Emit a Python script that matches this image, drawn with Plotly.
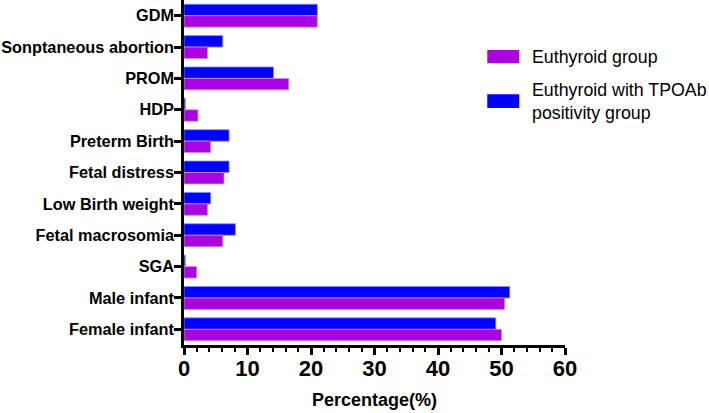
import plotly.graph_objects as go

categories = ["GDM", "Sonptaneous abortion", "PROM", "HDP", "Preterm Birth",
              "Fetal distress", "Low Birth weight", "Fetal macrosomia", "SGA",
              "Male infant", "Female infant"]
euthyroid = [21.0, 3.7, 16.5, 2.2, 4.2, 6.3, 3.7, 6.1, 2.0, 50.5, 50.0]
tpoab = [21.0, 6.1, 14.1, 0.2, 7.1, 7.1, 4.2, 8.1, 0.2, 51.3, 49.1]
xticks = [0, 10, 20, 30, 40, 50, 60]
names = ["Euthyroid group", "Euthyroid with TPOAb<br>positivity group"]
colors = ["#A805E0", "#0000FF"]

fig = go.Figure()
fig.add_trace(go.Bar(
    y=categories, x=tpoab, orientation="h", name=names[1], showlegend=False,
    marker=dict(color=colors[1], line=dict(color="#8C8CFF", width=0.8)),
))
fig.add_trace(go.Bar(
    y=categories, x=euthyroid, orientation="h", name=names[0], showlegend=False,
    marker=dict(color=colors[0], line=dict(color="#D08CF0", width=0.8)),
))

# custom legend (wide rectangular swatches) in paper coordinates
leg_swatch_y = [(0.817, 0.855), (0.687, 0.727)]
for (y0, y1), nm, col in zip(leg_swatch_y, names, colors):
    fig.add_shape(type="rect", xref="paper", yref="paper",
                  x0=0.796, x1=0.880, y0=y0, y1=y1,
                  fillcolor=col, line=dict(width=0))
    fig.add_annotation(xref="paper", yref="paper", x=0.907, y=(y0 + y1) / 2,
                       xanchor="left", yanchor="middle", align="left",
                       text=nm, showarrow=False,
                       font=dict(size=17.8, color="black"))

fig.update_layout(
    width=709, height=413,
    barmode="group", bargap=0.27, bargroupgap=0,
    plot_bgcolor="white", paper_bgcolor="white",
    margin=dict(l=184, r=144, t=0, b=68),
    font=dict(family="Liberation Sans, Arial, sans-serif", color="black"),
    showlegend=False,
)
fig.update_xaxes(
    range=[0, 60], tickvals=xticks, ticktext=[str(v) for v in xticks],
    showgrid=False, zeroline=False,
    showline=True, linecolor="black", linewidth=2.5,
    ticks="outside", ticklen=7, tickwidth=2.5, tickcolor="black",
    minor=dict(dtick=2, ticks="outside", ticklen=4, tickwidth=2, tickcolor="black"),
    tickfont=dict(size=22, family="Liberation Sans, Arial, sans-serif", weight="bold"),
    ticklabelstandoff=-5,
    title=dict(text="<b>Percentage(%)</b>", font=dict(size=18), standoff=14),
)
fig.update_yaxes(
    autorange="reversed", showgrid=False, zeroline=False,
    showline=True, linecolor="black", linewidth=2.5,
    ticks="outside", ticklen=7, tickwidth=2.5, tickcolor="black",
    tickfont=dict(size=16.3, family="Liberation Sans, Arial, sans-serif", weight="bold"),
    ticklabelstandoff=-3,
)

fig.write_html("out.html", post_script="document.body.style.margin='0';",
               config={"displayModeBar": False})
